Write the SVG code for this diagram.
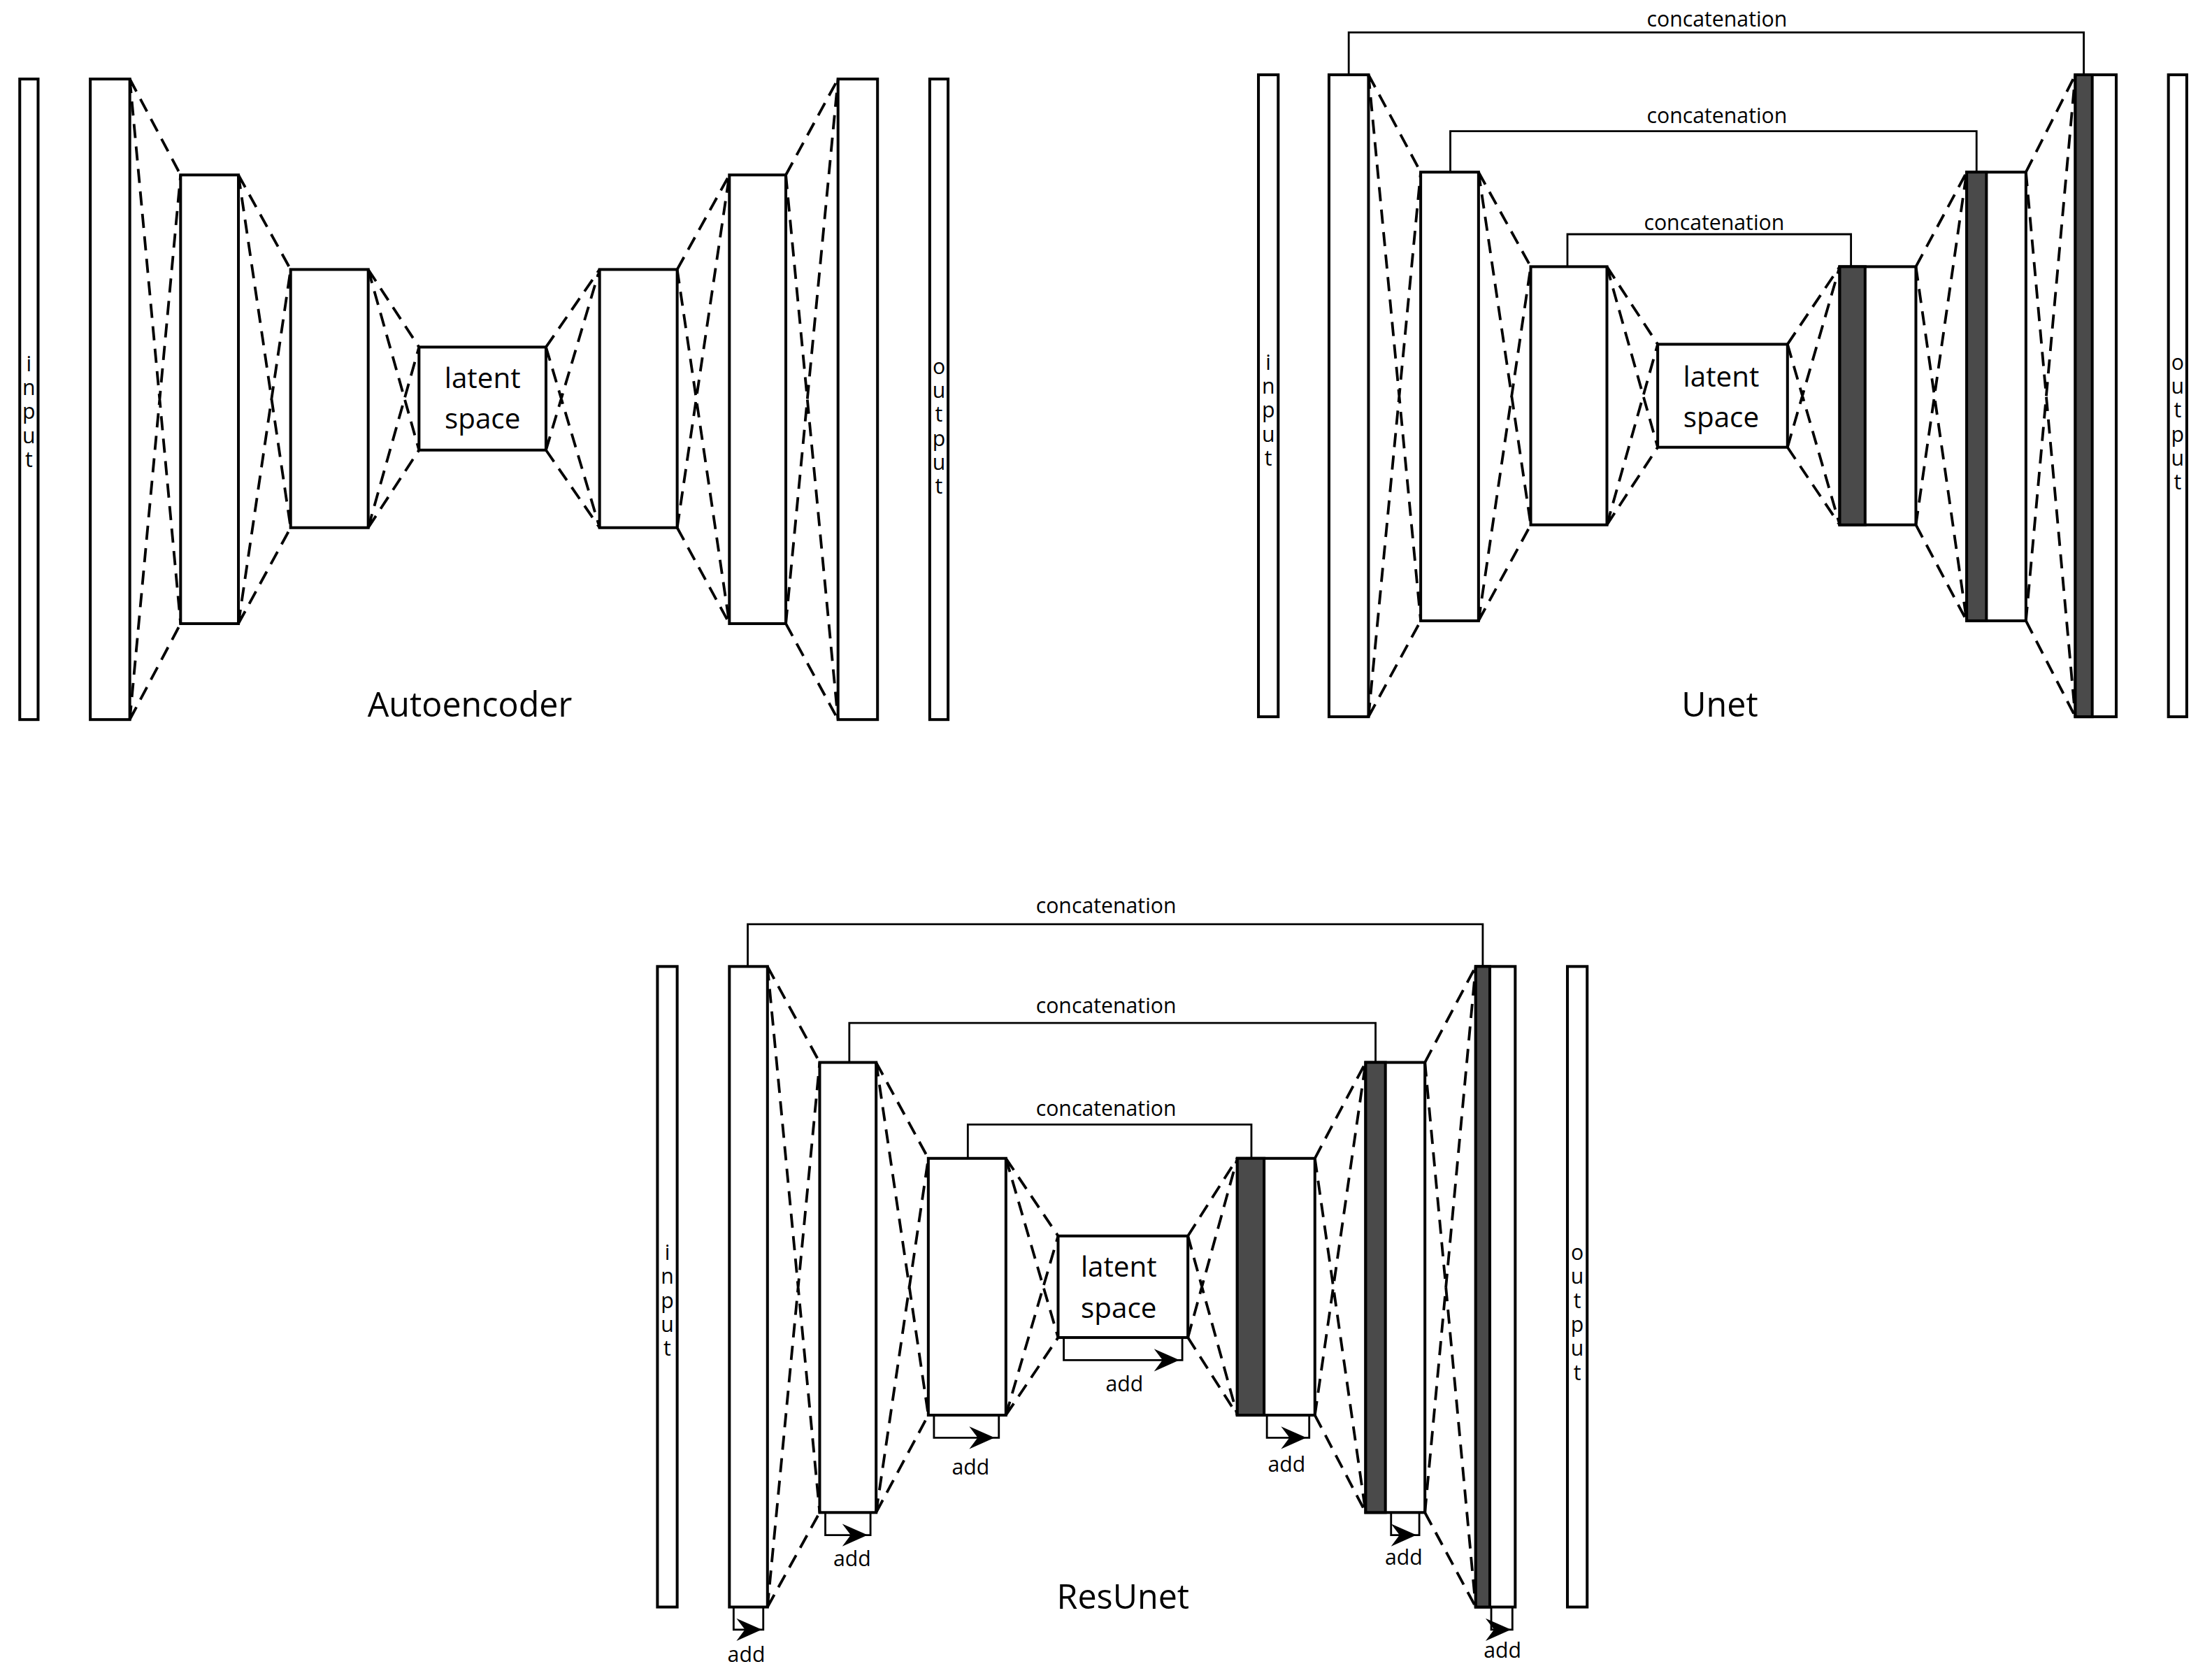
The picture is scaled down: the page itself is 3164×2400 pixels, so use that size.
<svg xmlns="http://www.w3.org/2000/svg" xmlns:xlink="http://www.w3.org/1999/xlink" width="3164" height="2400" viewBox="0 0 3164 2400">
<style>
.b{fill:#fff;stroke:#000;stroke-width:2}
.d{fill:#4a4a4a;stroke:#000;stroke-width:2}
.ds{fill:none;stroke:#000;stroke-width:1.9;stroke-dasharray:10 6}
.c{fill:none;stroke:#000;stroke-width:1.4}
.t{font-family:"Open Sans","Liberation Sans",sans-serif;fill:#000;text-anchor:middle}
.s{font-size:15px}
.m{font-size:20px}
.l{font-size:24px}
</style>
<defs><path id="ah" d="M0 0L-18 -8L-12 0L-18 8Z" fill="#000"/></defs>
<rect width="3164" height="2400" fill="#fff"/>
<g transform="scale(2.018)">
<g id="autoencoder">
<g id="ae-in"><rect class="b" x="14" y="56" width="13" height="454"/><text class="t s" x="20.5"><tspan x="20.5" y="263">i</tspan><tspan x="20.5" dy="17">n</tspan><tspan x="20.5" dy="17">p</tspan><tspan x="20.5" dy="17">u</tspan><tspan x="20.5" dy="17">t</tspan></text></g>
<g id="ae-b1"><rect class="b" x="64" y="56" width="28" height="454"/></g>
<g id="ae-b2"><rect class="b" x="128" y="124" width="41" height="318"/></g>
<g id="ae-b3"><rect class="b" x="206" y="191" width="55" height="183"/></g>
<g id="ae-lat"><rect class="b" x="297" y="246" width="90" height="73"/><text class="t m" x="342" y="275">latent</text><text class="t m" x="342" y="304">space</text></g>
<g id="ae-b4"><rect class="b" x="425" y="191" width="55" height="183"/></g>
<g id="ae-b5"><rect class="b" x="517" y="124" width="40" height="318"/></g>
<g id="ae-b6"><rect class="b" x="594" y="56" width="28" height="454"/></g>
<g id="ae-out"><rect class="b" x="659" y="56" width="13" height="454"/><text class="t s"><tspan x="665.5" y="265">o</tspan><tspan x="665.5" dy="17">u</tspan><tspan x="665.5" dy="17">t</tspan><tspan x="665.5" dy="17">p</tspan><tspan x="665.5" dy="17">u</tspan><tspan x="665.5" dy="17">t</tspan></text></g>
<text class="t l" x="333" y="508">Autoencoder</text>
</g>
<g id="unet">
<g id="u-in"><rect class="b" x="892" y="53" width="14" height="455"/><text class="t s"><tspan x="899" y="262">i</tspan><tspan x="899" dy="17">n</tspan><tspan x="899" dy="17">p</tspan><tspan x="899" dy="17">u</tspan><tspan x="899" dy="17">t</tspan></text></g>
<g id="u-b1"><rect class="b" x="942" y="53" width="28" height="455"/></g>
<g id="u-b2"><rect class="b" x="1007" y="122" width="41" height="318"/></g>
<g id="u-b3"><rect class="b" x="1085" y="189" width="54" height="183"/></g>
<g id="u-lat"><rect class="b" x="1175" y="244" width="92" height="73"/><text class="t m" x="1220" y="274">latent</text><text class="t m" x="1220" y="303">space</text></g>
<g id="u-d3"><rect class="b" x="1304" y="189" width="54" height="183"/><rect class="d" x="1304" y="189" width="18" height="183"/></g>
<g id="u-d2"><rect class="b" x="1394" y="122" width="42" height="318"/><rect class="d" x="1394" y="122" width="14" height="318"/></g>
<g id="u-d1"><rect class="b" x="1471" y="53" width="29" height="455"/><rect class="d" x="1471" y="53" width="12" height="455"/></g>
<g id="u-out"><rect class="b" x="1537" y="53" width="13" height="455"/><text class="t s"><tspan x="1543.5" y="262">o</tspan><tspan x="1543.5" dy="17">u</tspan><tspan x="1543.5" dy="17">t</tspan><tspan x="1543.5" dy="17">p</tspan><tspan x="1543.5" dy="17">u</tspan><tspan x="1543.5" dy="17">t</tspan></text></g>
<text class="t l" x="1219" y="508">Unet</text>
<text class="t s" x="1217" y="19">concatenation</text>
<text class="t s" x="1217" y="87">concatenation</text>
<text class="t s" x="1215" y="163">concatenation</text>
</g>
<g id="resunet">
<g id="r-in"><rect class="b" x="466" y="685" width="14" height="454"/><text class="t s"><tspan x="473" y="893">i</tspan><tspan x="473" dy="17">n</tspan><tspan x="473" dy="17">p</tspan><tspan x="473" dy="17">u</tspan><tspan x="473" dy="17">t</tspan></text></g>
<g id="r-b1"><rect class="b" x="517" y="685" width="27" height="454"/></g>
<g id="r-b2"><rect class="b" x="581" y="753" width="40" height="319"/></g>
<g id="r-b3"><rect class="b" x="658" y="821" width="55" height="182"/></g>
<g id="r-lat"><rect class="b" x="750" y="876" width="92" height="72"/><text class="t m" x="793" y="905">latent</text><text class="t m" x="793" y="934">space</text></g>
<g id="r-d3"><rect class="b" x="877" y="821" width="55" height="182"/><rect class="d" x="877" y="821" width="19" height="182"/></g>
<g id="r-d2"><rect class="b" x="968" y="753" width="42" height="319"/><rect class="d" x="968" y="753" width="14" height="319"/></g>
<g id="r-d1"><rect class="b" x="1046" y="685" width="28" height="454"/><rect class="d" x="1046" y="685" width="10" height="454"/></g>
<g id="r-out"><rect class="b" x="1111" y="685" width="14" height="454"/><text class="t s"><tspan x="1118" y="893">o</tspan><tspan x="1118" dy="17">u</tspan><tspan x="1118" dy="17">t</tspan><tspan x="1118" dy="17">p</tspan><tspan x="1118" dy="17">u</tspan><tspan x="1118" dy="17">t</tspan></text></g>
<text class="t l" x="796" y="1140">ResUnet</text>
<text class="t s" x="784" y="647">concatenation</text>
<text class="t s" x="784" y="718">concatenation</text>
<text class="t s" x="784" y="791">concatenation</text>
<text class="t s" x="688" y="1045">add</text>
<text class="t s" x="797" y="986">add</text>
<text class="t s" x="604" y="1110">add</text>
<text class="t s" x="529" y="1178">add</text>
<text class="t s" x="912" y="1043">add</text>
<text class="t s" x="995" y="1109">add</text>
<text class="t s" x="1065" y="1175">add</text>
</g>
<g id="connectors">
<path class="ds" d="M92 56L128 124M92 510L128 442M92 56L128 442M92 510L128 124
M169 124L206 191M169 442L206 374M169 124L206 374M169 442L206 191
M261 191L297 246M261 374L297 319M261 191L297 319M261 374L297 246
M387 246L425 191M387 319L425 374M387 246L425 374M387 319L425 191
M480 191L517 124M480 374L517 442M480 191L517 442M480 374L517 124
M557 124L594 56M557 442L594 510M557 124L594 510M557 442L594 56
M970 53L1007 122M970 508L1007 440M970 53L1007 440M970 508L1007 122
M1048 122L1085 189M1048 440L1085 372M1048 122L1085 372M1048 440L1085 189
M1139 189L1175 244M1139 372L1175 317M1139 189L1175 317M1139 372L1175 244
M1267 244L1304 189M1267 317L1304 372M1267 244L1304 372M1267 317L1304 189
M1358 189L1394 122M1358 372L1394 440M1358 189L1394 440M1358 372L1394 122
M1436 122L1471 53M1436 440L1471 508M1436 122L1471 508M1436 440L1471 53
M544 685L581 753M544 1139L581 1072M544 685L581 1072M544 1139L581 753
M621 753L658 821M621 1072L658 1003M621 753L658 1003M621 1072L658 821
M713 821L750 876M713 1003L750 948M713 821L750 948M713 1003L750 876
M842 876L877 821M842 948L877 1003M842 876L877 1003M842 948L877 821
M932 821L968 753M932 1003L968 1072M932 821L968 1072M932 1003L968 753
M1010 753L1046 685M1010 1072L1046 1139M1010 753L1046 1139M1010 1072L1046 685"/>
<path class="c" d="M956 53V23H1477V53M1028 122V93H1401V122M1111 189V166H1312V189
M530 685V655H1051V685M602 753V725H975V753M686 821V797H887V821"/>
<path class="c" d="M662 1003V1019H708V1003M754 948V964H838V948M585 1072V1088H617V1072M520 1139V1155H541V1139M898 1003V1019H928V1003M986 1072V1088H1006V1072M1057 1139V1155H1072V1139"/>
<use href="#ah" x="705" y="1019"/>
<use href="#ah" x="836" y="964"/>
<use href="#ah" x="615" y="1088"/>
<use href="#ah" x="540" y="1155"/>
<use href="#ah" x="926" y="1019"/>
<use href="#ah" x="1004" y="1088"/>
<use href="#ah" x="1071" y="1155"/>
</g>
</g>
</svg>
